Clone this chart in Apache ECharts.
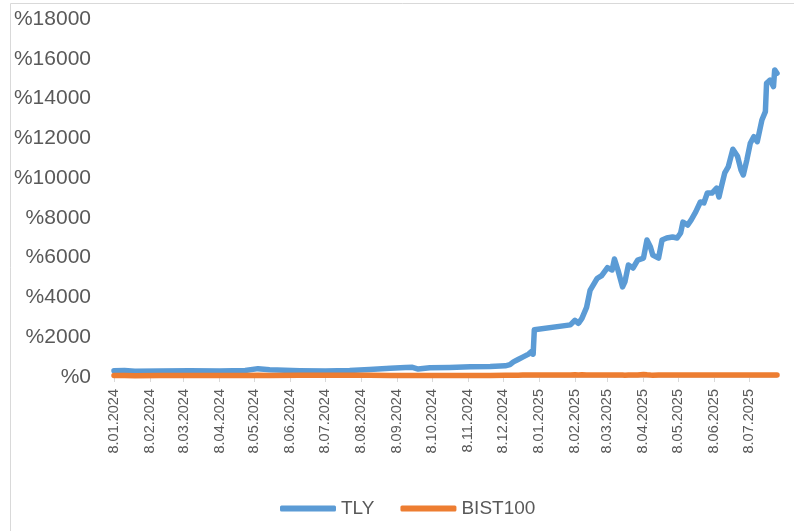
<!DOCTYPE html>
<html>
<head>
<meta charset="utf-8">
<script src="https://cdn.jsdelivr.net/npm/echarts@6/dist/echarts.min.js"></script>
<style>
  html, body { margin: 0; padding: 0; background: #fff; }
  #chart { width: 794px; height: 531px; }
</style>
</head>
<body>
<div id="chart"></div>
<script>
var dates = [
  '2024-01-08', '2024-01-17', '2024-01-26', '2024-02-17', '2024-03-13', '2024-04-08',
  '2024-04-30', '2024-05-11', '2024-05-21', '2024-06-16', '2024-07-08', '2024-07-29',
  '2024-08-15', '2024-09-02', '2024-09-15', '2024-09-21', '2024-09-26', '2024-10-06',
  '2024-10-23', '2024-11-10', '2024-11-27', '2024-12-10', '2024-12-14', '2024-12-17',
  '2024-12-21', '2024-12-25', '2024-12-30', '2025-01-02', '2025-01-03', '2025-01-04',
  '2025-02-04', '2025-02-08', '2025-02-11', '2025-02-14', '2025-02-18', '2025-02-21',
  '2025-02-27', '2025-03-03', '2025-03-08', '2025-03-12', '2025-03-14', '2025-03-17',
  '2025-03-21', '2025-03-23', '2025-03-26', '2025-03-30', '2025-04-03', '2025-04-08',
  '2025-04-11', '2025-04-14', '2025-04-16', '2025-04-21', '2025-04-24', '2025-04-28',
  '2025-05-03', '2025-05-07', '2025-05-10', '2025-05-12', '2025-05-16', '2025-05-19',
  '2025-05-23', '2025-05-27', '2025-05-30', '2025-06-02', '2025-06-06', '2025-06-10',
  '2025-06-12', '2025-06-14', '2025-06-17', '2025-06-20', '2025-06-24', '2025-06-28',
  '2025-07-01', '2025-07-03', '2025-07-06', '2025-07-09', '2025-07-12', '2025-07-15',
  '2025-07-19', '2025-07-22', '2025-07-23', '2025-07-26', '2025-07-29', '2025-07-30',
  '2025-08-01'
];

var tly = [
  320, 330, 290, 300, 310, 300,
  330, 420, 360, 320, 300, 330,
  380, 440, 480, 490, 400, 460,
  480, 520, 530, 560, 620, 760,
  880, 1000, 1150, 1300, 1150, 2380,
  2620, 2850, 2700, 2950, 3500, 4350,
  4950, 5100, 5500, 5380, 5930, 5380,
  4530, 4780, 5630, 5480, 5880, 5980,
  6890, 6540, 6130, 5980, 6890, 6990,
  7040, 6990, 7240, 7790, 7640, 7890,
  8300, 8800, 8750, 9250, 9250, 9500,
  9050, 9550, 10260, 10560, 11450, 11100,
  10400, 10160, 10910, 11750, 12080, 11830,
  12920, 13340, 14770, 14930, 14600, 15440,
  15270
];

var bist = [
  70, 70, 65, 70, 75, 70,
  75, 85, 80, 85, 90, 90,
  85, 80, 80, 80, 75, 80,
  80, 75, 80, 85, 85, 90,
  90, 95, 95, 100, 100, 100,
  105, 110, 105, 110, 105, 100,
  100, 105, 100, 95, 100, 95,
  95, 90, 95, 95, 100, 130,
  110, 95, 90, 95, 100, 100,
  100, 95, 100, 100, 95, 100,
  100, 100, 95, 100, 100, 100,
  95, 100, 100, 100, 100, 100,
  100, 100, 100, 100, 105, 100,
  100, 100, 100, 100, 100, 100,
  100
];

var tickLabels = [
  '8.01.2024', '8.02.2024', '8.03.2024', '8.04.2024', '8.05.2024', '8.06.2024',
  '8.07.2024', '8.08.2024', '8.09.2024', '8.10.2024', '8.11.2024', '8.12.2024',
  '8.01.2025', '8.02.2025', '8.03.2025', '8.04.2025', '8.05.2025', '8.06.2025',
  '8.07.2025'
];

var yTicks = [0, 2000, 4000, 6000, 8000, 10000, 12000, 14000, 16000, 18000];

// days since the first date, so the x axis behaves like Excel's date axis
var origin = Date.UTC(2024, 0, 8);
function dayOf(y, m, d) {
  return Math.round((Date.UTC(y, m - 1, d) - origin) / 86400000);
}
function isoDay(s) {
  var p = s.split('-');
  return dayOf(+p[0], +p[1], +p[2]);
}
function labelDay(s) {
  var p = s.split('.');
  return dayOf(+p[2], +p[1], +p[0]);
}

var tickDays = tickLabels.map(labelDay);
var labelByDay = {};
tickDays.forEach(function (d, i) { labelByDay[d] = tickLabels[i]; });

var tlyData = dates.map(function (d, i) { return [isoDay(d), tly[i]]; });
var bistData = dates.map(function (d, i) { return [isoDay(d), bist[i]]; });

var grey = '#595959';
var font = 'Liberation Sans';

var chart = echarts.init(document.getElementById('chart'));
var option = {
  animation: false,
  textStyle: { fontFamily: font },
  graphic: [{
    type: 'rect',
    shape: { x: 10.5, y: 3.5, width: 820, height: 600 },
    style: { fill: 'none', stroke: '#d9d9d9', lineWidth: 1 },
    silent: true
  }],
  grid: { left: 114, right: 17, top: 19, bottom: 154 },
  legend: {
    left: 280,
    top: 499,
    padding: 0,
    itemWidth: 56,
    itemHeight: 6,
    itemGap: 26,
    icon: 'roundRect',
    textStyle: { color: grey, fontSize: 19, fontFamily: font },
    data: ['TLY', 'BIST100']
  },
  xAxis: {
    type: 'value',
    min: 0,
    max: isoDay(dates[dates.length - 1]),
    splitLine: { show: false },
    axisLine: { show: true, lineStyle: { color: '#d9d9d9', width: 1 } },
    axisTick: { show: true, length: 5, customValues: tickDays, lineStyle: { color: '#d9d9d9' } },
    axisLabel: {
      rotate: 90,
      margin: 12,
      color: grey,
      fontSize: 14.5,
      fontFamily: font,
      customValues: tickDays,
      formatter: function (v) { return labelByDay[v] || ''; }
    }
  },
  yAxis: {
    type: 'value',
    min: 0,
    max: yTicks[yTicks.length - 1],
    interval: yTicks[1] - yTicks[0],
    splitLine: { show: false },
    axisLine: { show: false },
    axisTick: { show: false },
    axisLabel: {
      margin: 23,
      color: grey,
      fontSize: 21,
      fontFamily: font,
      formatter: function (v) { return '%' + v; }
    }
  },
  series: [
    {
      name: 'TLY',
      type: 'line',
      data: tlyData,
      showSymbol: false,
      symbol: 'none',
      color: '#5b9bd5',
      lineStyle: { width: 5.5, color: '#5b9bd5', cap: 'round', join: 'round' }
    },
    {
      name: 'BIST100',
      type: 'line',
      data: bistData,
      showSymbol: false,
      symbol: 'none',
      color: '#ed7d31',
      lineStyle: { width: 5.5, color: '#ed7d31', cap: 'round', join: 'round' }
    }
  ]
};
chart.setOption(option);
</script>
</body>
</html>
